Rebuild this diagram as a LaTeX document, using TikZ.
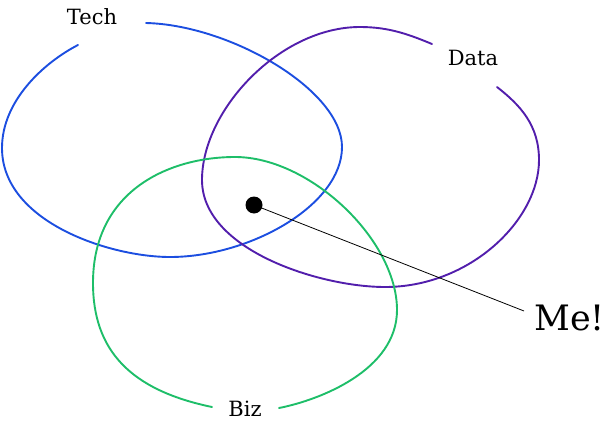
\documentclass[tikz,border=0pt]{standalone}
\usepackage{fontspec}
\setmainfont{DejaVu Serif}
\definecolor{techblue}{RGB}{28,78,224}
\definecolor{datapurple}{RGB}{82,30,172}
\definecolor{bizgreen}{RGB}{30,190,105}
\tikzset{
  loop/.style={line width=1.9pt, line cap=round},
  lbl/.style={font=\fontsize{21}{24}\selectfont, inner sep=0pt},
}
\begin{document}
\begin{tikzpicture}[x=1pt,y=-1pt]
\useasboundingbox (0,0) rectangle (612,428);
% Tech
\draw[loop, techblue] (146,23) .. controls (230,25) and (342,90) .. (342,147)
  .. controls (342,205) and (250,257) .. (170,257)
  .. controls (110,257) and (2,222) .. (2,148)
  .. controls (2,100) and (45,62) .. (78,45);
% Data
\draw[loop, datapurple] (432,44) .. controls (410,35) and (390,27) .. (360,27)
  .. controls (280,27) and (202,110) .. (202,180)
  .. controls (202,250) and (320,287) .. (385,287)
  .. controls (470,287) and (539,220) .. (539,160)
  .. controls (539,125) and (520,105) .. (497,87);
% Biz
\draw[loop, bizgreen] (212,407) .. controls (130,390) and (93,350) .. (93,283)
  .. controls (93,190) and (170,157) .. (235,157)
  .. controls (310,157) and (397,240) .. (397,310)
  .. controls (397,370) and (320,400) .. (279,408);
\node[lbl] (tech) at (92,17) {Tech};
\node[lbl] (data) at (473,58) {Data};
\node[lbl] (biz) at (245,409) {Biz};
\node[fill=black, circle, inner sep=0pt, minimum size=17pt] (me) at (254,205) {};
\node[font=\fontsize{35}{40}\selectfont, inner sep=0pt, anchor=west] (melbl) at (534,318) {Me!};
\coordinate (lineend) at (524,311);
\draw[line width=0.8pt] (me.center) -- (lineend);
\end{tikzpicture}
\end{document}
